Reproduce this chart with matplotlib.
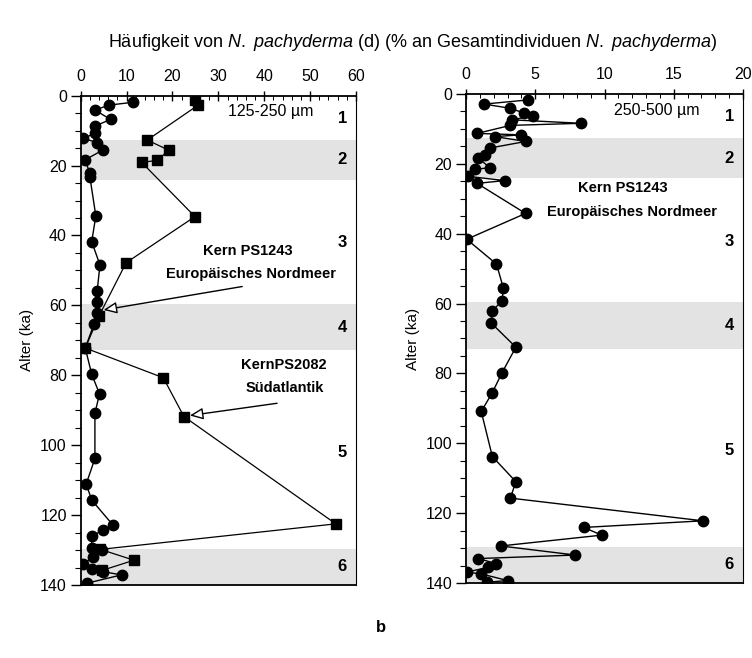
import matplotlib
matplotlib.use("Agg")
import matplotlib.pyplot as plt
from matplotlib.ticker import MultipleLocator

plt.rcParams['font.family'] = ['Liberation Sans', 'DejaVu Sans']
plt.rcParams['mathtext.fontset'] = 'custom'
plt.rcParams['mathtext.it'] = 'Liberation Sans:italic'
plt.rcParams['mathtext.rm'] = 'Liberation Sans'

# ---- Data: left panel (125-250 µm) ----
ps1243_l_age = [1.9, 2.7, 4.1, 6.8, 8.7, 10.8, 12.2, 13.4, 15.5, 18.4, 22.0, 23.2, 34.4, 41.8,
                48.4, 55.8, 59.1, 62.3, 65.3, 72.2, 79.7, 85.3, 90.9, 103.8, 111.1, 115.7,
                122.8, 124.2, 126.1, 129.5, 130.0, 132.0, 133.9, 135.5, 136.2, 137.1, 139.5]
ps1243_l_val = [11.3, 6.2, 3.1, 6.5, 3.1, 3.1, 0.6, 3.5, 4.9, 0.9, 2.0, 2.0, 3.3, 2.4,
                4.2, 3.6, 3.6, 3.5, 2.9, 1.0, 2.4, 4.1, 3.1, 3.1, 1.2, 2.4,
                7.0, 4.9, 2.4, 2.4, 4.6, 2.7, 0.6, 2.5, 4.9, 8.9, 1.3]

ps2082_l_age = [1.2, 2.7, 12.7, 15.6, 18.5, 19.1, 34.6, 47.8, 63.0, 72.2, 80.7, 91.8,
                122.5, 129.8, 132.9, 135.8]
ps2082_l_val = [24.9, 25.6, 14.5, 19.2, 16.7, 13.3, 24.9, 9.9, 4.0, 1.0, 18.0, 22.5,
                55.6, 4.3, 11.6, 4.7]

# ---- Data: right panel (250-500 µm) ----
ps1243_r_age = [1.7, 2.9, 4.1, 5.5, 6.3, 7.4, 8.4, 9.0, 11.3, 11.7, 12.2, 13.6, 15.5, 17.4,
                18.3, 21.1, 21.6, 23.6, 24.8, 25.6, 34.2, 41.6, 48.7, 55.6, 59.2, 62.1,
                65.5, 72.5, 79.8, 85.5, 90.9, 103.8, 111.0, 115.7, 122.2, 124.1, 126.3,
                129.4, 132.0, 133.0, 134.5, 135.5, 136.9, 137.4, 139.3, 139.8]
ps1243_r_val = [4.5, 1.3, 3.2, 4.2, 4.8, 3.3, 8.3, 3.2, 0.8, 4.0, 2.1, 4.3, 1.7, 1.4,
                0.9, 1.7, 0.65, 0.17, 2.8, 0.8, 4.3, 0.05, 2.2, 2.7, 2.6, 1.9,
                1.8, 3.6, 2.6, 1.9, 1.1, 1.9, 3.6, 3.2, 17.1, 8.5, 9.8,
                2.5, 7.9, 0.9, 2.2, 1.6, 0.05, 1.1, 3.0, 1.5]

stage_labels = ['1', '2', '3', '4', '5', '6']
stage_y = [6.5, 18.4, 42.1, 66.2, 102.0, 134.6]
glacial_bands = [(12.7, 24.0), (59.6, 72.9), (129.7, 140.0)]

title = ("Häufigkeit von $\\mathit{N.}$ $\\mathit{pachyderma}$ (d) "
         "(% an Gesamtindividuen $\\mathit{N.}$ $\\mathit{pachyderma}$)")

fig = plt.figure(figsize=(7.52, 6.58), dpi=100)
axL = fig.add_axes([0.1073, 0.1109, 0.3661, 0.7437])
axR = fig.add_axes([0.6197, 0.1140, 0.3684, 0.7432])

band_color = '#e3e3e3'

def style(ax, xmax, xmaj, xmin):
    ax.set_xlim(0, xmax)
    ax.set_ylim(140, 0)
    ax.xaxis.tick_top()
    ax.xaxis.set_label_position('top')
    ax.xaxis.set_major_locator(MultipleLocator(xmaj))
    ax.xaxis.set_minor_locator(MultipleLocator(xmin))
    ax.yaxis.set_major_locator(MultipleLocator(20))
    ax.yaxis.set_minor_locator(MultipleLocator(5))
    ax.tick_params(axis='x', which='major', direction='inout', length=7, width=1, labelsize=11.5, pad=5)
    ax.tick_params(axis='x', which='minor', direction='in', length=3, width=0.7)
    ax.tick_params(axis='y', which='major', direction='out', length=7, width=1, labelsize=11.5, pad=3)
    ax.tick_params(axis='y', which='minor', direction='out', length=4, width=0.8)
    ax.set_ylabel('Alter (ka)', fontsize=11, labelpad=4)
    for s in ['left', 'top', 'bottom']:
        ax.spines[s].set_linewidth(1.3)
    ax.spines['right'].set_linewidth(0.8)
    for (a, b) in glacial_bands:
        ax.axhspan(a, b, color=band_color, lw=0, zorder=0)
    for lab, yy in zip(stage_labels, stage_y):
        ax.text(xmax * 0.95, yy, lab, fontsize=12, fontweight='bold', ha='center', va='center')

style(axL, 60, 10, 2)
style(axR, 20, 5, 1)

# Left panel
axL.plot(ps2082_l_val, ps2082_l_age, '-', color='black', lw=0.9, marker='s', ms=6.5,
         mfc='black', mec='black', zorder=3)
axL.plot(ps1243_l_val, ps1243_l_age, '-', color='black', lw=1.0, marker='o', ms=7.5,
         mfc='black', mec='black', zorder=4)
axL.text(41.3, 4.6, '125-250 µm', fontsize=11.5, ha='center', va='center')
axL.text(36.5, 44.3, 'Kern PS1243', fontsize=10.5, fontweight='bold', ha='center', va='center')
axL.text(37.2, 51.1, 'Europäisches Nordmeer', fontsize=10.5, fontweight='bold', ha='center', va='center')
axL.text(44.3, 77.0, 'KernPS2082', fontsize=10.5, fontweight='bold', ha='center', va='center')
axL.text(44.5, 83.7, 'Südatlantik', fontsize=10.5, fontweight='bold', ha='center', va='center')
arrow = dict(arrowstyle='-|>,head_length=0.8,head_width=0.35', fc='white', ec='black', lw=1.0,
             shrinkA=0, shrinkB=0)
axL.annotate('', xy=(5.0, 61.3), xytext=(35.2, 54.6), arrowprops=arrow, zorder=5)
axL.annotate('', xy=(23.8, 91.5), xytext=(42.8, 88.0), arrowprops=arrow, zorder=5)

# Right panel
axR.plot(ps1243_r_val, ps1243_r_age, '-', color='black', lw=1.0, marker='o', ms=7.5,
         mfc='black', mec='black', zorder=4)
axR.text(13.75, 4.7, '250-500 µm', fontsize=11.5, ha='center', va='center')
axR.text(11.3, 27.0, 'Kern PS1243', fontsize=10.5, fontweight='bold', ha='center', va='center')
axR.text(12.0, 33.7, 'Europäisches Nordmeer', fontsize=10.5, fontweight='bold', ha='center', va='center')

fig.text(0.548, 0.936, title, fontsize=13, ha='center', va='center')
fig.text(0.507, 0.047, 'b', fontsize=12, fontweight='bold', ha='center', va='center')

fig.savefig('out.png', dpi=100)
